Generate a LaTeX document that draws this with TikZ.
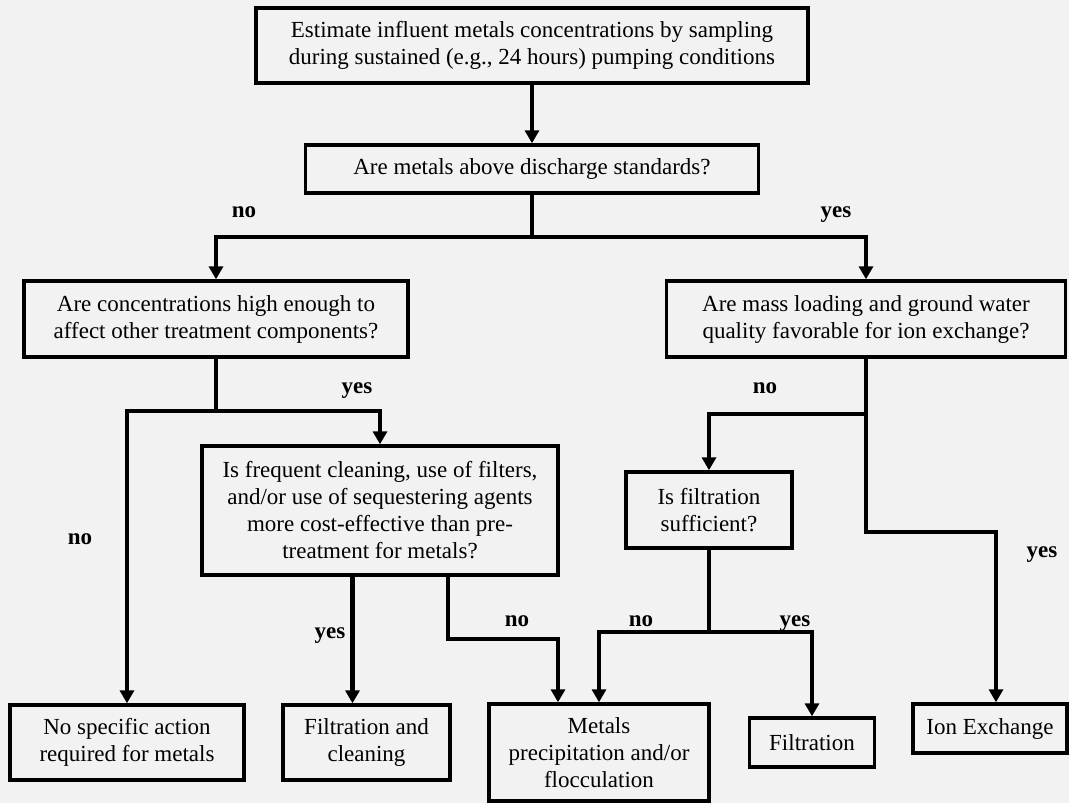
\documentclass[tikz,border=0pt]{standalone}
\usepackage{fontspec}
\setmainfont{Liberation Serif}
\usetikzlibrary{arrows.meta}
\definecolor{bgc}{HTML}{F2F2F2}
\begin{document}
\begin{tikzpicture}[x=1pt,y={(0pt,-1pt)},
 box/.style={draw,line width=3.4pt,align=center,inner sep=0pt,font=\fontsize{23}{27}\selectfont},
 arr/.style={line width=4.3pt,-{Triangle[width=14pt,length=13pt]}},
 lbl/.style={font=\fontsize{23}{27}\selectfont\bfseries,anchor=base,inner sep=0pt}]
\fill[bgc] (0,0) rectangle (1069,803);
\useasboundingbox (0,0) rectangle (1069,803);

\node[box,minimum width=552pt,minimum height=75pt] (top) at (532,45.5)
  {Estimate influent metals concentrations by sampling\\during sustained (e.g., 24 hours) pumping conditions};
\node[box,minimum width=453pt,minimum height=48pt] (q1) at (532,169)
  {Are metals above discharge standards?};
\node[box,minimum width=384pt,minimum height=76pt] (q2) at (216,319)
  {Are concentrations high enough to\\affect other treatment components?};
\node[box,minimum width=399pt,minimum height=76pt] (q3) at (866,319)
  {Are mass loading and ground water\\quality favorable for ion exchange?};
\node[box,minimum width=356pt,minimum height=129pt] (q4) at (380,510.5)
  {Is frequent cleaning, use of filters,\\and/or use of sequestering agents\\more cost-effective than pre-\\treatment for metals?};
\node[box,minimum width=166pt,minimum height=76pt] (q5) at (709,510)
  {Is filtration\\sufficient?};
\node[box,minimum width=234pt,minimum height=75pt] (r1) at (127,742.5)
  {No specific action\\required for metals};
\node[box,minimum width=167pt,minimum height=75pt] (r2) at (366.5,742.5)
  {Filtration and\\cleaning};
\node[box,minimum width=220pt,minimum height=97pt] (r3) at (599,752.5)
  {Metals\\precipitation and/or\\flocculation};
\node[box,minimum width=125pt,minimum height=49pt] (r4) at (812,742.5)
  {Filtration};
\node[box,minimum width=154pt,minimum height=49pt] (r5) at (990,728.5)
  {Ion Exchange};

\coordinate (j1) at (532,237);
\coordinate (j2) at (216,411);
\coordinate (j3) at (866,414);
\coordinate (j4) at (866,532);
\coordinate (j5) at (448,639);
\coordinate (j6) at (709,632);
\coordinate (c2) at (352.5,0);
\coordinate (c3) at (558,0);
\coordinate (c5) at (996,0);

\draw[arr] (top.south) -- (q1.north);
\draw[arr] (q1.south) -- (j1) -| (q2.north);
\draw[arr] (j1) -| (q3.north);
\draw[arr] (q2.south) -- (j2) -| (r1.north);
\draw[arr] (j2) -| (q4.north);
\draw[arr] (q3.south) -- (j3) -| (q5.north);
\draw[arr] (j3) -- (j4) -| (r5.north -| c5);
\draw[arr] (q4.south -| c2) -- (r2.north -| c2);
\draw[arr] (q4.south -| j5) -- (j5) -| (r3.north -| c3);
\draw[arr] (q5.south) -- (j6) -| (r3.north);
\draw[arr] (j6) -| (r4.north);

\node[lbl] (l1) at (244,217) {no};
\node[lbl] (l2) at (836,217) {yes};
\node[lbl] (l3) at (357,393) {yes};
\node[lbl] (l4) at (80,544) {no};
\node[lbl] (l5) at (765,393) {no};
\node[lbl] (l6) at (1042,557) {yes};
\node[lbl] (l7) at (330,638) {yes};
\node[lbl] (l8) at (517,626) {no};
\node[lbl] (l9) at (641,626) {no};
\node[lbl] (l10) at (795,626) {yes};
\end{tikzpicture}
\end{document}
